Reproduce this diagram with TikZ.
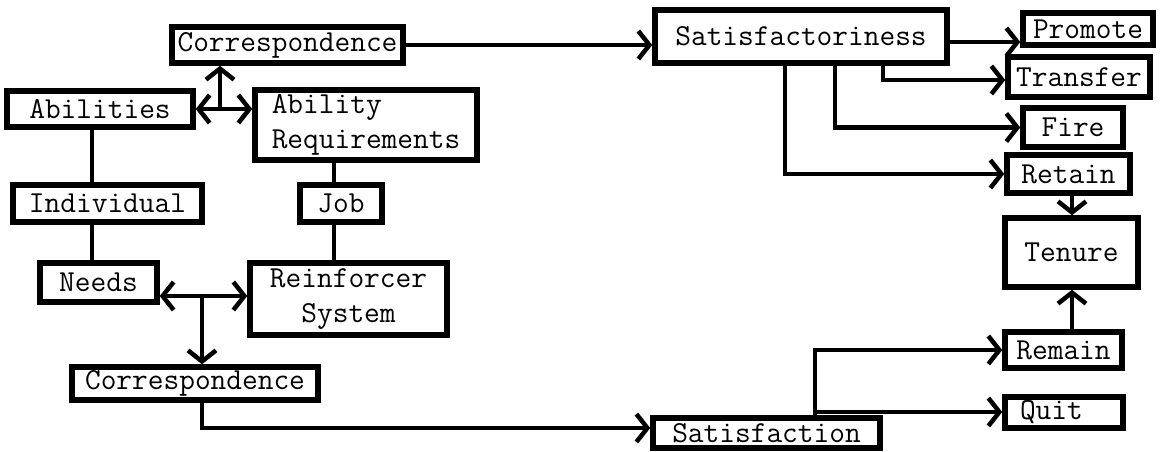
\documentclass[tikz,border=0pt]{standalone}
\usetikzlibrary{arrows.meta}
\begin{document}
\begin{tikzpicture}[x=1pt,y=-1pt,
  box/.style={draw,line width=5.5pt,inner sep=0pt,font=\ttfamily\fontsize{30.5}{35}\selectfont},
  conn/.style={line width=4.5pt},
  arr/.style={conn,-{Straight Barb[length=11pt,width=28pt]}},
  arrr/.style={conn,{Straight Barb[length=11pt,width=28pt]}-{Straight Barb[length=11pt,width=28pt]}}]
\useasboundingbox (0,0) rectangle (1160,451);
% left side
\node[box,minimum width=231pt,minimum height=36pt] (corrT) at (287.5,45) {Correspondence};
\node[box,minimum width=186pt,minimum height=36pt] (abil) at (100,109) {Abilities};
\node[box,minimum width=222pt,minimum height=70pt,align=left] (abreq) at (366,125) {Ability\\Requirements};
\node[box,minimum width=189pt,minimum height=37pt] (indiv) at (107.5,203.5) {Individual};
\node[box,minimum width=82pt,minimum height=37pt] (job) at (341,203.5) {Job};
\node[box,minimum width=117pt,minimum height=39pt] (needs) at (98.5,282.5) {Needs};
\node[box,minimum width=197pt,minimum height=72pt,align=center] (reinf) at (348.5,299) {Reinforcer\\System};
\node[box,minimum width=246pt,minimum height=33pt] (corrB) at (195,383.5) {Correspondence};
% right side
\node[box,minimum width=292pt,minimum height=53pt] (satf) at (801,36.5) {Satisfactoriness};
\node[box,minimum width=130pt,minimum height=32pt] (promote) at (1088,29) {Promote};
\node[box,minimum width=142pt,minimum height=40pt] (transfer) at (1079,77) {Transfer};
\node[box,minimum width=100pt,minimum height=39pt] (fire) at (1073,127.5) {Fire};
\node[box,minimum width=123pt,minimum height=38pt] (retain) at (1068.5,174) {Retain};
\node[box,minimum width=133pt,minimum height=69pt] (tenure) at (1071.5,252.5) {Tenure};
\node[box,minimum width=117pt,minimum height=36pt] (remain) at (1063.5,350) {Remain};
\node[box,minimum width=118pt,minimum height=31pt,text width=88pt,align=left] (quit) at (1064,412.5) {Quit};
\node[box,minimum width=227pt,minimum height=30pt] (satis) at (766.5,433) {Satisfaction};
% helper coordinates
\coordinate (xa) at (92,0);
\coordinate (xj) at (334,0);
\coordinate (j1) at (220,109);
\coordinate (yn) at (0,296);
\coordinate (j2) at (202,296);
\coordinate (ys) at (0,428);
\coordinate (yp) at (0,42);
\coordinate (xt) at (883,0);
\coordinate (yt) at (0,80);
\coordinate (xf) at (835,0);
\coordinate (xr) at (785,0);
\coordinate (xt2) at (1072,0);
\coordinate (xs) at (815,0);
\coordinate (jq) at (815,412);
% connectors left
\draw[arr] (corrT.east) -- (corrT.east -| satf.west);
\draw[arrr] (abil.east) -- (abil.east -| abreq.west);
\draw[arr] (j1) -- (j1 |- corrT.south);
\draw[conn] (abil.south -| xa) -- (indiv.north -| xa);
\draw[conn] (indiv.south -| xa) -- (needs.north -| xa);
\draw[conn] (abreq.south -| xj) -- (job.north -| xj);
\draw[conn] (job.south -| xj) -- (reinf.north -| xj);
\draw[arrr] (needs.east |- yn) -- (reinf.west |- yn);
\draw[arr] (j2) -- (j2 |- corrB.north);
\draw[arr] (corrB.south -| j2) |- (satis.west |- ys);
% connectors right
\draw[arr] (satf.east |- yp) -- (promote.west |- yp);
\draw[arr] (satf.south -| xt) |- (transfer.west |- yt);
\draw[arr] (satf.south -| xf) |- (fire.west);
\draw[arr] (satf.south -| xr) |- (retain.west);
\draw[arr] (retain.south -| xt2) -- (tenure.north -| xt2);
\draw[arr] (remain.north -| xt2) -- (tenure.south -| xt2);
\draw[arr] (satis.north -| xs) |- (remain.west);
\draw[arr] (jq) -- (quit.west |- jq);
\end{tikzpicture}
\end{document}
